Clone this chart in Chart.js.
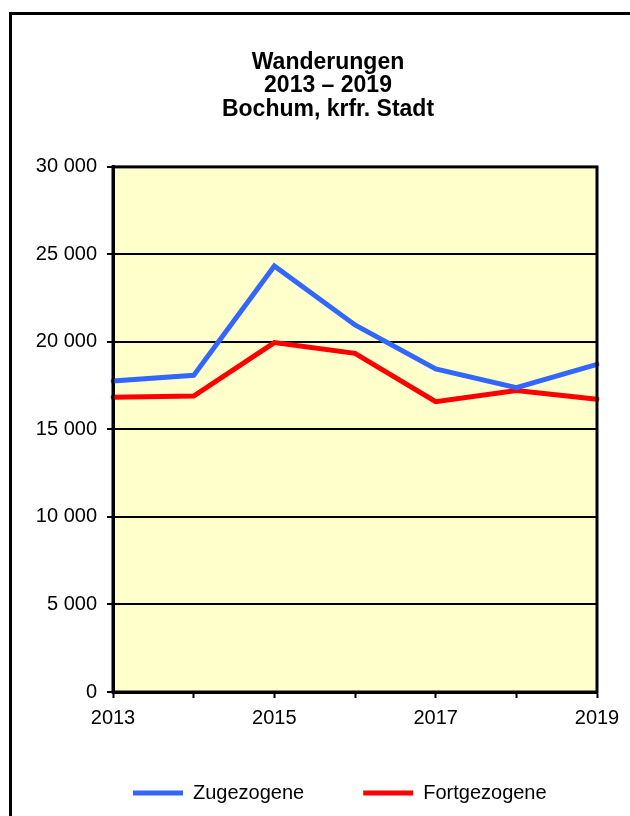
<!DOCTYPE html>
<html>
<head>
<meta charset="utf-8">
<script src="https://cdn.jsdelivr.net/npm/chart.js@4"></script>
<style>
  body { margin: 0; width: 630px; height: 816px; overflow: hidden; background: #fff; position: relative; }
  #frame { position: absolute; left: 9px; top: 12px; width: 700px; height: 900px; border: 3px solid #000; }
  #chart { position: absolute; left: 0; top: 0; }
</style>
</head>
<body>
<div id="frame"></div>
<canvas id="chart" width="630" height="816"></canvas>
<script>
const titleLines = ['Wanderungen', '2013 \u2013 2019', 'Bochum, krfr. Stadt'];
const years = ['2013', '2014', '2015', '2016', '2017', '2018', '2019'];
const shownYears = ['2013', '2015', '2017', '2019'];
const zugezogene = [17770, 18090, 24340, 20970, 18460, 17390, 18720];
const fortgezogene = [16840, 16910, 19960, 19350, 16590, 17220, 16720];

const font = 'Liberation Sans, Arial, sans-serif';

// yellow plot area with a black frame around it
const plotArea = {
    id: 'plotArea',
    beforeDraw(chart) {
        const { ctx, chartArea: a } = chart;
        ctx.save();
        ctx.fillStyle = '#FFFFCC';
        ctx.fillRect(a.left, a.top, a.right - a.left, a.bottom - a.top);
        ctx.restore();
    },
    afterDraw(chart) {
        const { ctx, chartArea: a } = chart;
        ctx.save();
        ctx.strokeStyle = '#000';
        ctx.lineWidth = 3;
        ctx.strokeRect(a.left, a.top, a.right - a.left, a.bottom - a.top);
        ctx.restore();
    },
    afterLayout(chart) {
        // title centred on the outer frame, legend row shifted right like the original
        chart.titleBlock.left = 59;
        chart.legend.left = 74;
        chart.legend.right = 700;
    }
};

new Chart(document.getElementById('chart'), {
    type: 'line',
    data: {
        labels: years,
        datasets: [{
            label: 'Zugezogene',
            data: zugezogene,
            borderColor: '#3366FF',
            backgroundColor: '#3366FF',
            borderWidth: 5,
            borderCapStyle: 'round',
            pointRadius: 0,
            tension: 0
        }, {
            label: 'Fortgezogene',
            data: fortgezogene,
            borderColor: '#FF0000',
            backgroundColor: '#FF0000',
            borderWidth: 5,
            borderCapStyle: 'round',
            pointRadius: 0,
            tension: 0
        }]
    },
    options: {
        responsive: false,
        animation: false,
        layout: { padding: { left: 0, right: 33, top: 0, bottom: 3 } },
        plugins: {
            title: {
                display: true,
                text: titleLines,
                color: '#000',
                font: { family: font, size: 23, weight: 'bold', lineHeight: 1.013 },
                padding: { top: 51, bottom: 46 }
            },
            legend: {
                position: 'bottom',
                align: 'start',
                labels: {
                    color: '#000',
                    font: { family: font, size: 20 },
                    usePointStyle: true,
                    pointStyle: 'line',
                    pointStyleWidth: 50,
                    padding: 59
                }
            },
            tooltip: { enabled: false }
        },
        scales: {
            x: {
                type: 'category',
                afterFit(scale) { scale.height = 32; },
                ticks: {
                    autoSkip: false,
                    maxRotation: 0,
                    color: '#000',
                    font: { family: font, size: 20 },
                    padding: 8,
                    callback(value) {
                        const label = this.getLabelForValue(value);
                        return shownYears.includes(label) ? label : '';
                    }
                },
                grid: { drawOnChartArea: false, tickLength: 6, tickColor: '#000', tickWidth: 2 },
                border: { color: '#000', width: 3 }
            },
            y: {
                min: 0,
                max: 30000,
                afterFit(scale) { scale.width = 113; },
                ticks: {
                    stepSize: 5000,
                    color: '#000',
                    font: { family: font, size: 20 },
                    padding: 10,
                    callback(value) {
                        return String(value).replace(/\B(?=(\d{3})+(?!\d))/g, ' ');
                    }
                },
                grid: { color: '#000', lineWidth: 2, tickLength: 6, tickColor: '#000', tickWidth: 2 },
                border: { color: '#000', width: 3 }
            }
        }
    },
    plugins: [plotArea]
});
</script>
</body>
</html>
